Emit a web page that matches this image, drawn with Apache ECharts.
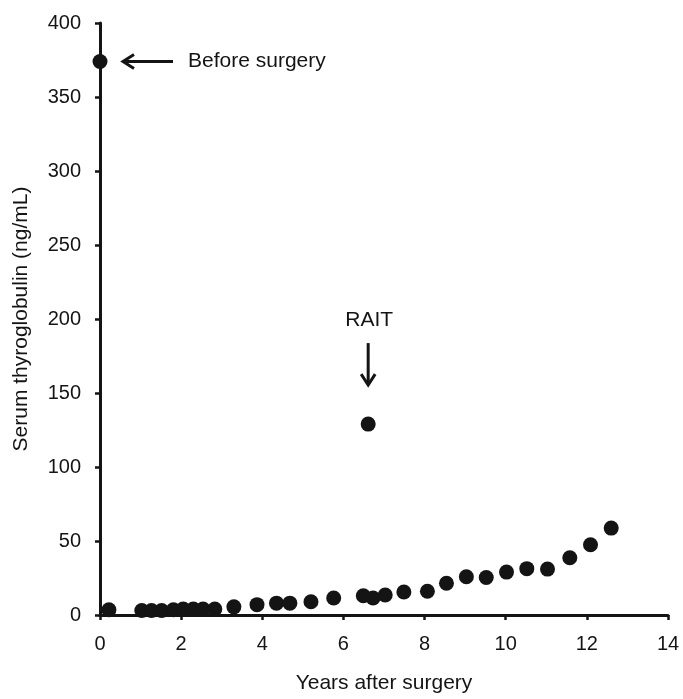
<!DOCTYPE html>
<html>
<head>
<meta charset="utf-8">
<script src="https://cdn.jsdelivr.net/npm/echarts@6/dist/echarts.min.js"></script>
<style>html,body{margin:0;padding:0;background:#fff}#c{width:683px;height:699px}</style>
</head>
<body>
<div id="c"></div>
<script>
// Years after surgery
var years = [0, 0.22, 1.03, 1.27, 1.52, 1.81, 2.05, 2.30, 2.54, 2.83, 3.3, 3.87, 4.35, 4.68, 5.2, 5.76, 6.49, 6.61, 6.73, 7.03, 7.49, 8.07, 8.54, 9.03, 9.52, 10.02, 10.52, 11.03, 11.58, 12.09, 12.6];
// Serum thyroglobulin (ng/mL)
var thyroglobulin = [374, 3.5, 3, 3, 3, 3.5, 4, 4, 4, 4, 5.5, 7, 8, 8, 9, 11.5, 13, 129, 11.5, 13.5, 15.5, 16, 21.5, 25.8, 25.3, 29, 31.3, 31, 38.7, 47.5, 58.7];
var xTicks = {min: 0, max: 14, interval: 2};
var yTicks = {min: 0, max: 400, interval: 50};
var annotations = [
  {text: 'Before surgery', x: 0, y: 374, kind: 'left'},
  {text: 'RAIT', x: 6.61, y: 129, kind: 'down'}
];

var font = '"Liberation Sans", Arial, Helvetica, sans-serif';
var ink = '#141414';
var chart = echarts.init(document.getElementById('c'), null, {renderer: 'canvas'});
var pts = years.map(function (x, i) { return [x, thyroglobulin[i]]; });
var axisCommon = {
  axisLine: {show: true, onZero: false, lineStyle: {color: ink, width: 3}},
  axisTick: {show: true, inside: false, length: 5, lineStyle: {color: ink, width: 2.5}},
  splitLine: {show: false},
  axisLabel: {color: ink, fontSize: 20, fontFamily: font, margin: 19}
};
chart.setOption({
  animation: false,
  grid: {left: 100, right: 15, top: 23, bottom: 75, containLabel: false},
  xAxis: Object.assign({}, axisCommon, {
    type: 'value', min: xTicks.min, max: xTicks.max, interval: xTicks.interval,
    name: 'Years after surgery', nameLocation: 'middle', nameGap: 58,
    nameTextStyle: {color: ink, fontSize: 21, fontFamily: font}
  }),
  yAxis: Object.assign({}, axisCommon, {
    type: 'value', min: yTicks.min, max: yTicks.max, interval: yTicks.interval,
    name: 'Serum thyroglobulin (ng/mL)', nameLocation: 'middle', nameGap: 68,
    nameTextStyle: {color: ink, fontSize: 21, fontFamily: font}
  }),
  series: [{
    type: 'scatter', data: pts, symbol: 'circle', symbolSize: 15,
    itemStyle: {color: ink, opacity: 1}, z: 5
  }]
});

var g = [];
annotations.forEach(function (a) {
  var p = chart.convertToPixel({gridIndex: 0}, [a.x, a.y]);
  if (a.kind === 'left') {
    var x1 = p[0] + 23, x2 = p[0] + 73, y = p[1];
    g.push({type: 'line', shape: {x1: x1 + 2, y1: y, x2: x2, y2: y}, style: {stroke: ink, lineWidth: 3}});
    g.push({type: 'polyline', shape: {points: [[x1 + 11, y - 7], [x1, y], [x1 + 11, y + 7]]}, style: {stroke: ink, lineWidth: 3, fill: null}});
    g.push({type: 'text', x: x2 + 15, y: y, style: {text: a.text, fontSize: 21, fontFamily: font, fill: ink, verticalAlign: 'middle', align: 'left'}});
  } else {
    var x = p[0], y1 = p[1] - 81, y2 = p[1] - 39;
    g.push({type: 'line', shape: {x1: x, y1: y1, x2: x, y2: y2 - 2}, style: {stroke: ink, lineWidth: 3}});
    g.push({type: 'polyline', shape: {points: [[x - 7, y2 - 11], [x, y2], [x + 7, y2 - 11]]}, style: {stroke: ink, lineWidth: 3, fill: null}});
    g.push({type: 'text', x: x + 1, y: y1 - 23, style: {text: a.text, fontSize: 21, fontFamily: font, fill: ink, verticalAlign: 'middle', align: 'center'}});
  }
});
chart.setOption({graphic: g});
</script>
</body>
</html>
